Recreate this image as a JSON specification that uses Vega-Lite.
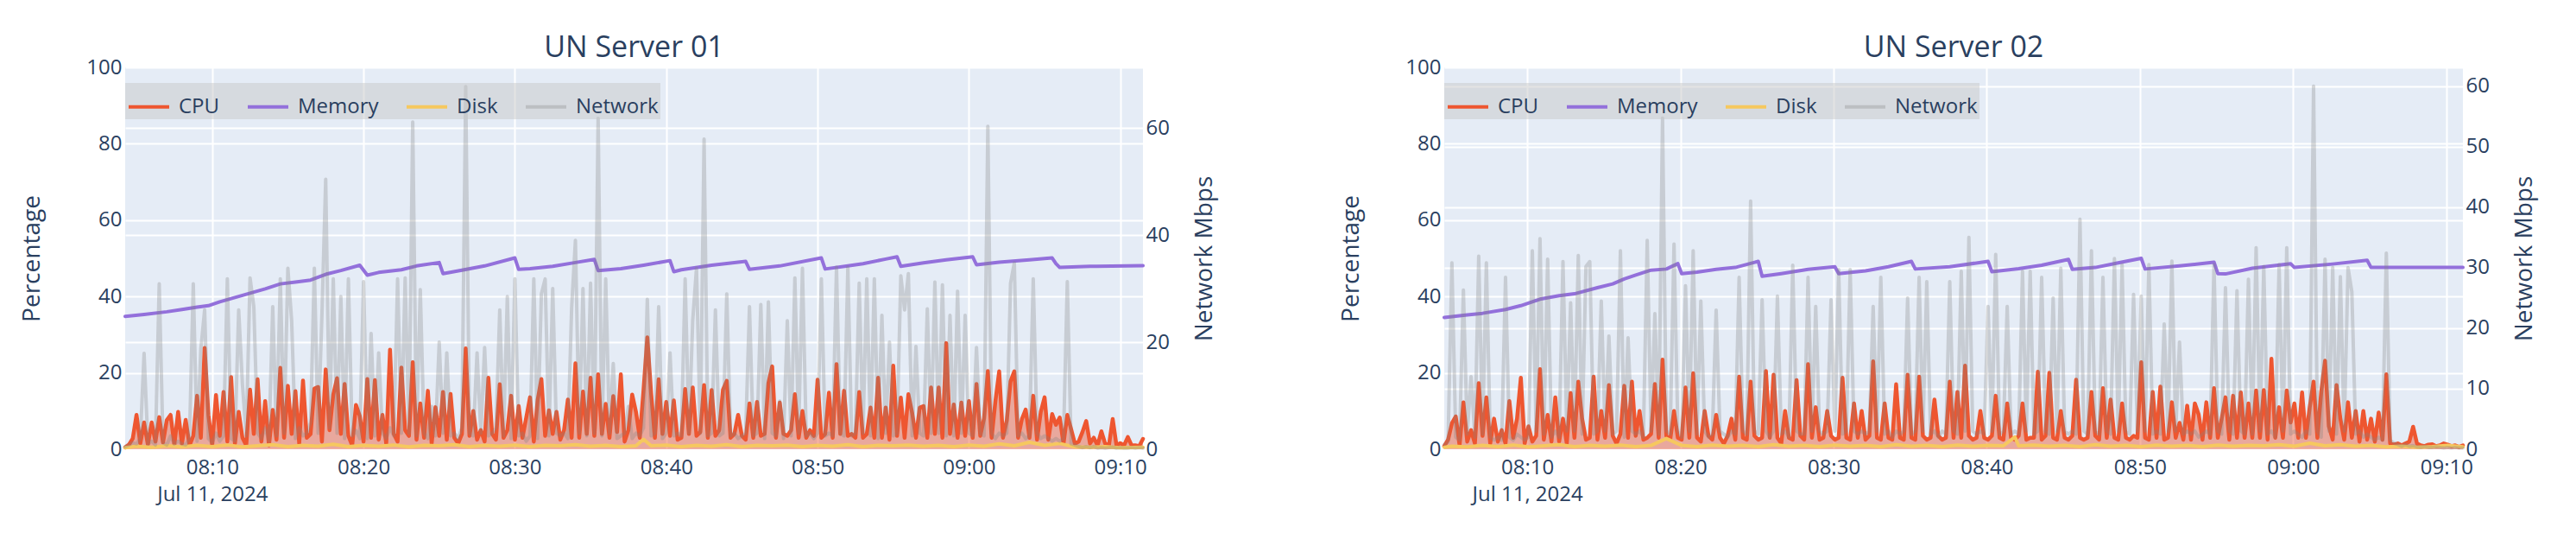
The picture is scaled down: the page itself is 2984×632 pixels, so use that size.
{
"$schema":"https://vega.github.io/schema/vega-lite/v6.json",
"background":"white",
"padding":{"left":23,"top":39,"right":5,"bottom":5},
"config":{
"font":"Open Sans",
"view":{"stroke":null,"fill":"#E5ECF6"},
"axis":{"labelFont":"Open Sans","labelFontSize":24,"labelColor":"#2a3f5f","titleFont":"Open Sans","titleFontSize":28,"titleFontWeight":"normal","titleColor":"#2a3f5f","domain":false,"ticks":false,"gridColor":"#ffffff","gridWidth":2,"gridOpacity":1},
"title":{"font":"Open Sans","fontSize":34,"fontWeight":"normal","color":"#2a3f5f","anchor":"middle","offset":-7},
"line":{"strokeJoin":"round","strokeCap":"round"}
},
"datasets":{
"s1":[
{"t":"08:04:15","c":0.5,"n":0.5,"m":34.8,"d":0.4},{"t":"08:04:30","c":1.2,"n":0.8},{"t":"08:04:45","c":2.8,"n":1.2},
{"t":"08:05:00","c":9.0,"n":1.0,"d":0.8},{"t":"08:05:15","c":1.5,"n":2.0},{"t":"08:05:30","c":7.0,"n":17.9,"m":35.3},{"t":"08:05:45","c":1.2,"n":1.0},
{"t":"08:06:00","c":7.0,"n":1.5,"d":0.5},{"t":"08:06:15","c":2.0,"n":0.8},{"t":"08:06:30","c":8.4,"n":30.9},{"t":"08:06:45","c":1.8,"n":1.2},
{"t":"08:07:00","c":7.6,"n":0.8,"m":36.0,"d":0.9},{"t":"08:07:15","c":9.0,"n":2.5},{"t":"08:07:30","c":1.2,"n":1.0},{"t":"08:07:45","c":9.8,"n":1.5},
{"t":"08:08:00","c":1.5,"n":1.0,"m":36.6,"d":0.6},{"t":"08:08:15","c":7.7,"n":0.8},{"t":"08:08:30","c":1.0,"n":2.0},{"t":"08:08:45","c":3.5,"n":30.9},
{"t":"08:09:00","c":14.0,"n":1.5,"m":37.2,"d":1.0},{"t":"08:09:15","c":3.0,"n":18.7},{"t":"08:09:30","c":26.5,"n":26.0},{"t":"08:09:45","c":9.0,"n":2.0,"m":37.6},
{"t":"08:10:00","c":1.0,"n":1.2,"d":0.7},{"t":"08:10:15","c":14.2,"n":3.0},{"t":"08:10:30","c":3.5,"n":1.5,"m":38.6},{"t":"08:10:45","c":15.0,"n":2.5},
{"t":"08:11:00","c":2.0,"n":31.8,"d":1.1},{"t":"08:11:15","c":18.9,"n":2.0},{"t":"08:11:30","c":1.5,"n":1.5},{"t":"08:11:45","c":9.8,"n":26.0},
{"t":"08:12:00","c":3.0,"n":12.0,"m":40.3,"d":0.6},{"t":"08:12:15","c":1.0,"n":2.5},{"t":"08:12:30","c":15.6,"n":32.0},{"t":"08:12:45","c":4.0,"n":26.6},
{"t":"08:13:00","c":18.3,"n":3.0,"d":0.9},{"t":"08:13:15","c":2.0,"n":2.0},{"t":"08:13:30","c":12.6,"n":4.0,"m":42.0},{"t":"08:13:45","c":1.0,"n":1.5},
{"t":"08:14:00","c":10.3,"n":26.6,"d":1.2},{"t":"08:14:15","c":2.5,"n":2.5},{"t":"08:14:30","c":21.3,"n":31.8,"m":43.3},{"t":"08:14:45","c":3.0,"n":3.0},
{"t":"08:15:00","c":16.6,"n":33.8,"d":0.7},{"t":"08:15:15","c":4.0,"n":24.0},{"t":"08:15:30","c":15.2,"n":2.0,"m":43.8},{"t":"08:15:45","c":1.5,"n":4.0},
{"t":"08:16:00","c":18.0,"n":2.5,"d":1.0},{"t":"08:16:15","c":3.0,"n":3.0},{"t":"08:16:30","c":4.0,"n":5.0,"m":44.3},{"t":"08:16:45","c":15.9,"n":33.8},
{"t":"08:17:00","c":16.3,"n":3.0,"d":0.8},{"t":"08:17:15","c":2.0,"n":25.0},{"t":"08:17:30","c":20.9,"n":50.4,"m":45.8},{"t":"08:17:45","c":5.0,"n":4.0},
{"t":"08:18:00","c":14.3,"n":31.8,"d":1.3},{"t":"08:18:15","c":18.6,"n":3.0},{"t":"08:18:30","c":4.0,"n":28.5,"m":46.8},{"t":"08:18:45","c":17.1,"n":2.0},
{"t":"08:19:00","c":3.5,"n":31.8,"d":0.7},{"t":"08:19:15","c":1.0,"n":2.5},{"t":"08:19:30","c":11.6,"n":3.5},{"t":"08:19:45","c":8.7,"n":2.0,"m":48.2},
{"t":"08:20:00","c":2.0,"n":31.3,"d":1.0},{"t":"08:20:15","c":18.4,"n":2.0,"m":45.6},{"t":"08:20:30","c":3.0,"n":21.6},{"t":"08:20:45","c":18.1,"n":2.5},
{"t":"08:21:00","c":2.5,"n":18.0,"m":46.3,"d":0.8},{"t":"08:21:15","c":9.0,"n":3.0},{"t":"08:21:30","c":1.5,"n":2.0},{"t":"08:21:45","c":26.1,"n":4.0},
{"t":"08:22:00","c":4.0,"n":2.5,"d":1.1},{"t":"08:22:15","c":2.0,"n":31.8},{"t":"08:22:30","c":21.4,"n":3.0,"m":47.0},{"t":"08:22:45","c":5.0,"n":32.0},
{"t":"08:23:00","c":3.5,"n":3.0,"d":0.6},{"t":"08:23:15","c":22.8,"n":61.1},{"t":"08:23:30","c":2.5,"n":2.5,"m":48.0},{"t":"08:23:45","c":12.0,"n":29.8},
{"t":"08:24:00","c":3.0,"n":3.0,"d":1.0},{"t":"08:24:15","c":15.3,"n":2.0},{"t":"08:24:30","c":1.5,"n":8.0},{"t":"08:24:45","c":11.0,"n":2.5},
{"t":"08:25:00","c":3.5,"n":20.0,"m":48.9,"d":0.9},{"t":"08:25:15","c":15.0,"n":3.0,"m":46.0},{"t":"08:25:30","c":2.5,"n":18.0},{"t":"08:25:45","c":14.5,"n":2.5},
{"t":"08:26:00","c":3.0,"n":3.0,"d":1.2},{"t":"08:26:15","c":1.5,"n":2.0},{"t":"08:26:30","c":4.0,"n":4.0,"m":46.9},{"t":"08:26:45","c":26.4,"n":67.7},
{"t":"08:27:00","c":3.5,"n":3.0,"d":0.7},{"t":"08:27:15","c":10.0,"n":2.5},{"t":"08:27:30","c":2.5,"n":18.0},{"t":"08:27:45","c":5.0,"n":3.0},
{"t":"08:28:00","c":2.0,"n":19.0,"m":48.0,"d":1.0},{"t":"08:28:15","c":18.7,"n":2.5},{"t":"08:28:30","c":4.0,"n":3.0},{"t":"08:28:45","c":2.5,"n":4.0},
{"t":"08:29:00","c":17.0,"n":26.0,"d":0.8},{"t":"08:29:15","c":3.0,"n":2.5},{"t":"08:29:30","c":5.0,"n":28.5},{"t":"08:29:45","c":14.0,"n":2.0},
{"t":"08:30:00","c":2.5,"n":31.8,"m":50.1,"d":1.1},{"t":"08:30:15","c":11.3,"n":2.5,"m":47.1},{"t":"08:30:30","c":3.0,"n":3.0},{"t":"08:30:45","c":8.3,"n":1.5},
{"t":"08:31:00","c":13.6,"n":2.5,"m":47.3,"d":0.7},{"t":"08:31:15","c":2.0,"n":31.8},{"t":"08:31:30","c":12.8,"n":2.0},{"t":"08:31:45","c":18.4,"n":29.0},
{"t":"08:32:00","c":3.5,"n":31.8,"d":1.0},{"t":"08:32:15","c":10.2,"n":2.5},{"t":"08:32:30","c":4.0,"n":30.0,"m":47.9},{"t":"08:32:45","c":9.8,"n":3.0},
{"t":"08:33:00","c":2.5,"n":2.5,"d":0.9},{"t":"08:33:15","c":5.0,"n":3.0},{"t":"08:33:30","c":13.0,"n":2.0},{"t":"08:33:45","c":3.0,"n":26.4},
{"t":"08:34:00","c":22.5,"n":39.0,"m":48.9,"d":1.2},{"t":"08:34:15","c":3.0,"n":3.0},{"t":"08:34:30","c":15.1,"n":30.0},{"t":"08:34:45","c":4.0,"n":2.5},
{"t":"08:35:00","c":18.7,"n":31.0,"d":0.8},{"t":"08:35:15","c":3.5,"n":3.0,"m":49.7},{"t":"08:35:30","c":19.6,"n":61.8,"m":46.8},{"t":"08:35:45","c":4.0,"n":2.5},
{"t":"08:36:00","c":11.9,"n":31.8,"d":1.0},{"t":"08:36:15","c":3.0,"n":3.0},{"t":"08:36:30","c":13.9,"n":16.0},{"t":"08:36:45","c":4.5,"n":2.0},
{"t":"08:37:00","c":19.6,"n":2.5,"m":47.3,"d":0.7},{"t":"08:37:15","c":2.0,"n":3.0},{"t":"08:37:30","c":5.0,"n":8.0},{"t":"08:37:45","c":14.3,"n":2.0},
{"t":"08:38:00","c":9.8,"n":3.0,"d":0.9},{"t":"08:38:15","c":3.0,"n":2.5},{"t":"08:38:30","c":15.5,"n":4.0,"m":48.2,"d":2.6},{"t":"08:38:45","c":29.3,"n":28.0},
{"t":"08:39:00","c":14.7,"n":2.5,"d":0.9},{"t":"08:39:15","c":3.0,"n":3.0},{"t":"08:39:30","c":18.3,"n":26.6},{"t":"08:39:45","c":4.0,"n":2.0},
{"t":"08:40:00","c":12.4,"n":3.0,"d":1.1},{"t":"08:40:15","c":3.5,"n":18.0,"m":49.4},{"t":"08:40:30","c":12.8,"n":2.5,"m":46.5},{"t":"08:40:45","c":2.5,"n":3.0},
{"t":"08:41:00","c":3.0,"n":2.5,"m":47.0,"d":0.7},{"t":"08:41:15","c":15.8,"n":31.8},{"t":"08:41:30","c":4.0,"n":3.0},{"t":"08:41:45","c":16.2,"n":24.0},
{"t":"08:42:00","c":3.5,"n":33.8,"d":1.0},{"t":"08:42:15","c":4.5,"n":3.0},{"t":"08:42:30","c":16.8,"n":57.9},{"t":"08:42:45","c":3.0,"n":2.5},
{"t":"08:43:00","c":15.5,"n":3.0,"m":48.2,"d":0.8},{"t":"08:43:15","c":3.5,"n":26.0},{"t":"08:43:30","c":5.0,"n":2.5},{"t":"08:43:45","c":15.6,"n":3.0},
{"t":"08:44:00","c":17.9,"n":29.0,"d":1.2},{"t":"08:44:15","c":3.0,"n":2.5},{"t":"08:44:30","c":4.0,"n":3.0},{"t":"08:44:45","c":9.0,"n":2.0},
{"t":"08:45:00","c":3.5,"n":2.5,"d":0.7},{"t":"08:45:15","c":2.5,"n":3.0,"m":49.2},{"t":"08:45:30","c":12.0,"n":26.6,"m":47.1},{"t":"08:45:45","c":3.0,"n":2.5},
{"t":"08:46:00","c":12.4,"n":3.0,"d":1.0},{"t":"08:46:15","c":3.5,"n":27.0},{"t":"08:46:30","c":4.0,"n":2.0},{"t":"08:46:45","c":17.3,"n":27.5},
{"t":"08:47:00","c":21.7,"n":3.0,"d":0.9},{"t":"08:47:15","c":3.0,"n":2.5},{"t":"08:47:30","c":12.2,"n":9.0,"m":48.0},{"t":"08:47:45","c":4.0,"n":2.0},
{"t":"08:48:00","c":3.5,"n":24.0,"d":1.1},{"t":"08:48:15","c":5.0,"n":2.5},{"t":"08:48:30","c":14.4,"n":32.0},{"t":"08:48:45","c":3.0,"n":3.0},
{"t":"08:49:00","c":10.0,"n":33.8,"d":0.7},{"t":"08:49:15","c":3.0,"n":2.5},{"t":"08:49:30","c":5.0,"n":3.0},{"t":"08:49:45","c":3.5,"n":2.0},
{"t":"08:50:00","c":18.2,"n":3.0,"d":1.0},{"t":"08:50:15","c":3.0,"n":31.8,"m":50.1},{"t":"08:50:30","c":4.0,"n":2.5,"m":47.2},{"t":"08:50:45","c":14.8,"n":3.0},
{"t":"08:51:00","c":3.0,"n":2.5,"d":0.8},{"t":"08:51:15","c":22.3,"n":34.0},{"t":"08:51:30","c":4.0,"n":3.0},{"t":"08:51:45","c":15.3,"n":2.5},
{"t":"08:52:00","c":3.5,"n":34.0,"m":48.0,"d":1.2},{"t":"08:52:15","c":4.0,"n":2.5},{"t":"08:52:30","c":3.0,"n":3.0},{"t":"08:52:45","c":15.0,"n":31.0},
{"t":"08:53:00","c":3.0,"n":3.0,"m":48.6,"d":0.7},{"t":"08:53:15","c":4.0,"n":31.8},{"t":"08:53:30","c":10.9,"n":2.5},{"t":"08:53:45","c":3.0,"n":31.8},
{"t":"08:54:00","c":18.7,"n":2.0,"d":1.0},{"t":"08:54:15","c":3.0,"n":25.0},{"t":"08:54:30","c":10.9,"n":3.0,"m":49.8},{"t":"08:54:45","c":2.5,"n":20.0},
{"t":"08:55:00","c":21.9,"n":2.5,"d":0.9},{"t":"08:55:15","c":3.5,"n":3.0,"m":50.4},{"t":"08:55:30","c":13.5,"n":32.4,"m":47.9},{"t":"08:55:45","c":3.0,"n":26.0},
{"t":"08:56:00","c":14.4,"n":32.8,"d":1.1},{"t":"08:56:15","c":9.5,"n":2.5},{"t":"08:56:30","c":3.0,"n":19.2},{"t":"08:56:45","c":10.9,"n":3.0},
{"t":"08:57:00","c":11.3,"n":2.5,"m":48.8,"d":0.8},{"t":"08:57:15","c":3.0,"n":26.2},{"t":"08:57:30","c":16.2,"n":3.0},{"t":"08:57:45","c":4.0,"n":31.2},
{"t":"08:58:00","c":16.2,"n":3.0,"d":1.0},{"t":"08:58:15","c":3.0,"n":30.7},{"t":"08:58:30","c":27.8,"n":2.5,"m":49.6},{"t":"08:58:45","c":4.0,"n":25.0},
{"t":"08:59:00","c":11.7,"n":2.5,"d":0.7},{"t":"08:59:15","c":3.0,"n":29.5},{"t":"08:59:30","c":12.2,"n":3.0},{"t":"08:59:45","c":3.5,"n":25.0},
{"t":"09:00:00","c":12.6,"n":3.0,"d":1.1},{"t":"09:00:15","c":3.0,"n":2.5,"m":50.4},{"t":"09:00:30","c":17.1,"n":19.0,"m":48.3},{"t":"09:00:45","c":3.5,"n":3.0},
{"t":"09:01:00","c":8.1,"n":2.5,"d":0.8},{"t":"09:01:15","c":20.5,"n":60.3},{"t":"09:01:30","c":3.0,"n":3.0},{"t":"09:01:45","c":12.6,"n":2.0},
{"t":"09:02:00","c":20.4,"n":3.0,"m":49.0,"d":1.4},{"t":"09:02:15","c":3.0,"n":2.5},{"t":"09:02:30","c":7.5,"n":3.0},{"t":"09:02:45","c":17.8,"n":31.0},
{"t":"09:03:00","c":20.4,"n":34.8,"d":0.9},{"t":"09:03:15","c":3.0,"n":2.5},{"t":"09:03:30","c":7.9,"n":3.0},{"t":"09:03:45","c":10.4,"n":2.0},
{"t":"09:04:00","c":3.0,"n":2.5,"m":49.6,"d":1.8},{"t":"09:04:15","c":14.0,"n":31.8},{"t":"09:04:30","c":2.5,"n":3.0},{"t":"09:04:45","c":9.8,"n":2.0},
{"t":"09:05:00","c":13.6,"n":2.5,"d":1.0},{"t":"09:05:15","c":2.5,"n":2.0},{"t":"09:05:30","c":9.2,"n":1.5,"m":50.1},{"t":"09:05:45","c":6.4,"n":2.0,"m":48.6},
{"t":"09:06:00","c":8.3,"n":1.5,"m":47.6,"d":1.5},{"t":"09:06:15","c":1.5,"n":2.0},{"t":"09:06:30","c":9.0,"n":31.3},{"t":"09:06:45","c":5.3,"n":1.0},
{"t":"09:07:00","c":1.5,"n":0.8,"d":0.6},{"t":"09:07:15","c":2.0,"n":0.5},{"t":"09:07:30","c":4.5,"n":0.3},{"t":"09:07:45","c":7.4,"n":0.5},
{"t":"09:08:00","c":1.5,"n":0.3,"m":47.9,"d":0.5},{"t":"09:08:15","c":3.0,"n":0.5},{"t":"09:08:30","c":1.0,"n":0.2},{"t":"09:08:45","c":4.7,"n":0.3},
{"t":"09:09:00","c":1.5,"n":0.2,"d":0.7},{"t":"09:09:15","c":1.0,"n":0.3},{"t":"09:09:30","c":7.9,"n":0.4},{"t":"09:09:45","c":1.0,"n":0.2},
{"t":"09:10:00","c":1.6,"n":0.3,"d":0.4},{"t":"09:10:15","c":1.0,"n":0.2},{"t":"09:10:30","c":3.2,"n":0.2},{"t":"09:10:45","c":1.0,"n":0.3},
{"t":"09:11:00","c":1.0,"n":0.2},{"t":"09:11:15","c":0.8,"n":0.3},{"t":"09:11:30","c":2.7,"n":0.2,"m":48.1,"d":0.5}
],
"s2":[
{"t":"08:04:35","c":0.8,"n":0.8,"m":34.5,"d":0.5},{"t":"08:04:50","c":2.5,"n":1.2},
{"t":"08:05:05","c":6.8,"n":30.8,"d":0.8},{"t":"08:05:20","c":8.6,"n":2.0},{"t":"08:05:35","c":1.0,"n":1.5},{"t":"08:05:50","c":12.3,"n":26.3},
{"t":"08:06:05","c":2.0,"n":2.5,"m":35.2,"d":0.6},{"t":"08:06:20","c":5.0,"n":12.0},{"t":"08:06:35","c":1.5,"n":2.0},{"t":"08:06:50","c":17.3,"n":31.9},
{"t":"08:07:05","c":3.5,"n":2.5,"m":35.6,"d":1.0},{"t":"08:07:20","c":13.6,"n":30.8},{"t":"08:07:35","c":1.5,"n":2.0},{"t":"08:07:50","c":8.0,"n":1.5},
{"t":"08:08:05","c":2.0,"n":2.0,"d":0.7},{"t":"08:08:20","c":5.0,"n":1.5},{"t":"08:08:35","c":1.5,"n":28.4,"m":36.6},{"t":"08:08:50","c":12.6,"n":2.0},
{"t":"08:09:05","c":3.0,"n":1.5,"d":1.1},{"t":"08:09:20","c":8.0,"n":2.5},{"t":"08:09:35","c":18.7,"n":2.0,"m":37.6},{"t":"08:09:50","c":1.5,"n":1.5},
{"t":"08:10:05","c":6.0,"n":2.0,"d":0.6},{"t":"08:10:20","c":2.0,"n":32.8},{"t":"08:10:35","c":3.5,"n":3.0},{"t":"08:10:50","c":21.0,"n":34.8,"m":39.3},
{"t":"08:11:05","c":2.5,"n":2.5,"d":0.9},{"t":"08:11:20","c":9.0,"n":31.4},{"t":"08:11:35","c":2.0,"n":2.0},{"t":"08:11:50","c":13.6,"n":3.0},
{"t":"08:12:05","c":2.0,"n":2.0,"m":40.2,"d":1.2},{"t":"08:12:20","c":8.0,"n":31.0},{"t":"08:12:35","c":1.5,"n":3.0},{"t":"08:12:50","c":14.7,"n":24.2},
{"t":"08:13:05","c":3.0,"n":3.0,"m":40.7,"d":0.7},{"t":"08:13:20","c":17.7,"n":32.0},{"t":"08:13:35","c":8.0,"n":2.5},{"t":"08:13:50","c":2.5,"n":30.2},
{"t":"08:14:05","c":3.0,"n":31.0,"d":1.0},{"t":"08:14:20","c":19.0,"n":2.5},{"t":"08:14:35","c":2.5,"n":3.0,"m":42.3},{"t":"08:14:50","c":10.0,"n":24.5},
{"t":"08:15:05","c":3.0,"n":3.0,"d":0.8},{"t":"08:15:20","c":16.8,"n":18.7},{"t":"08:15:35","c":3.5,"n":2.5,"m":43.3},{"t":"08:15:50","c":1.5,"n":3.0},
{"t":"08:16:05","c":4.0,"n":32.8,"d":1.1},{"t":"08:16:20","c":16.6,"n":2.0,"m":44.6},{"t":"08:16:35","c":3.0,"n":18.4},{"t":"08:16:50","c":17.7,"n":3.0},
{"t":"08:17:05","c":3.5,"n":2.5,"m":45.6,"d":0.7},{"t":"08:17:20","c":10.0,"n":3.0},{"t":"08:17:35","c":2.5,"n":2.0},{"t":"08:17:50","c":3.0,"n":34.5},
{"t":"08:18:05","c":4.0,"n":3.0,"m":46.9,"d":1.0},{"t":"08:18:20","c":17.1,"n":22.4},{"t":"08:18:35","c":3.0,"n":2.5},{"t":"08:18:50","c":23.5,"n":54.7},
{"t":"08:19:05","c":3.5,"n":3.0,"m":47.2,"d":2.8},{"t":"08:19:20","c":2.5,"n":2.5},{"t":"08:19:35","c":10.0,"n":33.9},{"t":"08:19:50","c":3.0,"n":3.0,"m":48.6},
{"t":"08:20:05","c":2.5,"n":2.0,"m":46.0,"d":1.0},{"t":"08:20:20","c":16.2,"n":27.0},{"t":"08:20:35","c":3.0,"n":3.0},{"t":"08:20:50","c":19.9,"n":32.8},
{"t":"08:21:05","c":3.0,"n":2.5,"m":46.4,"d":0.7},{"t":"08:21:20","c":2.0,"n":24.5},{"t":"08:21:35","c":10.0,"n":3.0},{"t":"08:21:50","c":3.5,"n":2.0},
{"t":"08:22:05","c":2.5,"n":2.5,"d":1.1},{"t":"08:22:20","c":9.0,"n":23.0,"m":47.1},{"t":"08:22:35","c":3.0,"n":3.0},{"t":"08:22:50","c":1.5,"n":2.5},
{"t":"08:23:05","c":3.5,"n":2.0,"d":0.8},{"t":"08:23:20","c":8.0,"n":3.0},{"t":"08:23:35","c":2.5,"n":2.5,"m":47.6},{"t":"08:23:50","c":19.0,"n":28.4},
{"t":"08:24:05","c":3.0,"n":3.0,"d":1.0},{"t":"08:24:20","c":2.5,"n":2.5},{"t":"08:24:35","c":17.7,"n":41.0},{"t":"08:24:50","c":3.5,"n":3.0},
{"t":"08:25:05","c":2.5,"n":2.5,"m":49.2,"d":0.7},{"t":"08:25:20","c":3.0,"n":24.7,"m":45.3},{"t":"08:25:35","c":20.5,"n":3.0},{"t":"08:25:50","c":3.0,"n":2.0},
{"t":"08:26:05","c":19.5,"n":3.0,"d":1.2},{"t":"08:26:20","c":3.0,"n":25.3},{"t":"08:26:35","c":1.5,"n":2.5,"m":46.0},{"t":"08:26:50","c":10.0,"n":3.0},
{"t":"08:27:05","c":3.0,"n":2.0,"d":0.8},{"t":"08:27:20","c":2.5,"n":30.4},{"t":"08:27:35","c":18.1,"n":3.0},{"t":"08:27:50","c":3.5,"n":2.5},
{"t":"08:28:05","c":2.5,"n":2.5,"d":1.0},{"t":"08:28:20","c":22.3,"n":28.4,"m":47.1},{"t":"08:28:35","c":3.0,"n":3.0},{"t":"08:28:50","c":11.0,"n":23.6},
{"t":"08:29:05","c":2.5,"n":3.0,"d":0.7},{"t":"08:29:20","c":3.0,"n":2.5},{"t":"08:29:35","c":10.0,"n":3.0},{"t":"08:29:50","c":3.5,"n":24.7},
{"t":"08:30:05","c":2.5,"n":3.0,"m":47.8,"d":1.1},{"t":"08:30:20","c":3.0,"n":29.7,"m":46.0},{"t":"08:30:35","c":18.7,"n":2.5},{"t":"08:30:50","c":3.0,"n":3.0},
{"t":"08:31:05","c":2.5,"n":29.7,"d":0.8},{"t":"08:31:20","c":12.0,"n":3.0},{"t":"08:31:35","c":3.0,"n":2.5},{"t":"08:31:50","c":10.0,"n":3.0},
{"t":"08:32:05","c":2.5,"n":2.5,"m":46.7,"d":1.0},{"t":"08:32:20","c":3.5,"n":3.0},{"t":"08:32:35","c":23.0,"n":23.6},{"t":"08:32:50","c":3.0,"n":3.0},
{"t":"08:33:05","c":2.5,"n":28.4,"d":0.7},{"t":"08:33:20","c":12.0,"n":2.5},{"t":"08:33:35","c":3.0,"n":3.0,"m":47.8},{"t":"08:33:50","c":2.5,"n":2.0},
{"t":"08:34:05","c":17.0,"n":3.0,"d":1.2},{"t":"08:34:20","c":3.0,"n":2.5},{"t":"08:34:35","c":2.5,"n":3.0},{"t":"08:34:50","c":19.5,"n":25.0},
{"t":"08:35:05","c":3.0,"n":2.5,"m":49.2,"d":0.8},{"t":"08:35:20","c":2.5,"n":3.0,"m":47.2},{"t":"08:35:35","c":19.0,"n":28.4},{"t":"08:35:50","c":3.5,"n":3.0},
{"t":"08:36:05","c":2.5,"n":27.7,"d":1.0},{"t":"08:36:20","c":3.0,"n":2.5},{"t":"08:36:35","c":13.0,"n":3.0},{"t":"08:36:50","c":3.5,"n":2.0},
{"t":"08:37:05","c":2.5,"n":3.0,"d":0.7},{"t":"08:37:20","c":3.0,"n":2.5},{"t":"08:37:35","c":17.7,"n":27.7,"m":47.8},{"t":"08:37:50","c":3.0,"n":3.0},
{"t":"08:38:05","c":15.0,"n":2.5,"d":1.1},{"t":"08:38:20","c":3.0,"n":29.4},{"t":"08:38:35","c":21.9,"n":3.0},{"t":"08:38:50","c":3.5,"n":35.0},
{"t":"08:39:05","c":2.5,"n":3.0,"d":0.8},{"t":"08:39:20","c":3.0,"n":2.5},{"t":"08:39:35","c":10.0,"n":3.0},{"t":"08:39:50","c":3.0,"n":2.5},
{"t":"08:40:05","c":2.5,"n":23.6,"m":49.2,"d":1.0},{"t":"08:40:20","c":3.5,"n":3.0,"m":46.5},{"t":"08:40:35","c":14.0,"n":32.2},{"t":"08:40:50","c":3.0,"n":2.5},
{"t":"08:41:05","c":2.5,"n":3.0,"d":0.9},{"t":"08:41:20","c":12.0,"n":23.6},{"t":"08:41:35","c":3.0,"n":2.5},{"t":"08:41:50","c":2.5,"n":3.0,"d":3.2},
{"t":"08:42:05","c":3.5,"n":2.5,"m":47.3,"d":0.9},{"t":"08:42:20","c":12.0,"n":29.4},{"t":"08:42:35","c":2.5,"n":3.0},{"t":"08:42:50","c":3.0,"n":29.4},
{"t":"08:43:05","c":3.0,"n":2.5,"d":1.1},{"t":"08:43:20","c":20.3,"n":3.0},{"t":"08:43:35","c":2.5,"n":28.4,"m":48.2},{"t":"08:43:50","c":3.5,"n":3.0},
{"t":"08:44:05","c":20.0,"n":2.5,"d":0.8},{"t":"08:44:20","c":3.0,"n":25.0},{"t":"08:44:35","c":2.5,"n":3.0},{"t":"08:44:50","c":10.0,"n":29.9},
{"t":"08:45:05","c":3.0,"n":3.0,"d":1.0},{"t":"08:45:20","c":2.5,"n":2.5,"m":49.7},{"t":"08:45:35","c":3.5,"n":3.0,"m":47.1},{"t":"08:45:50","c":18.2,"n":2.5},
{"t":"08:46:05","c":3.0,"n":38.0,"d":0.7},{"t":"08:46:20","c":2.5,"n":3.0},{"t":"08:46:35","c":3.0,"n":2.5},{"t":"08:46:50","c":15.0,"n":32.8},
{"t":"08:47:05","c":3.5,"n":3.0,"m":47.6,"d":1.2},{"t":"08:47:20","c":2.5,"n":2.5},{"t":"08:47:35","c":16.0,"n":28.4},{"t":"08:47:50","c":3.0,"n":3.0},
{"t":"08:48:05","c":13.0,"n":2.5,"d":0.8},{"t":"08:48:20","c":3.0,"n":31.5},{"t":"08:48:35","c":2.5,"n":3.0,"m":48.8},{"t":"08:48:50","c":12.0,"n":30.5},
{"t":"08:49:05","c":3.0,"n":3.0,"d":1.0},{"t":"08:49:20","c":2.5,"n":2.5},{"t":"08:49:35","c":3.5,"n":25.6},{"t":"08:49:50","c":3.0,"n":3.0},
{"t":"08:50:05","c":22.8,"n":25.3,"m":50.0,"d":0.7},{"t":"08:50:20","c":3.0,"n":3.0,"m":47.2},{"t":"08:50:35","c":2.5,"n":30.5},{"t":"08:50:50","c":15.0,"n":2.5},
{"t":"08:51:05","c":3.0,"n":3.0,"d":1.1},{"t":"08:51:20","c":16.4,"n":2.5},{"t":"08:51:35","c":2.5,"n":20.7},{"t":"08:51:50","c":3.0,"n":3.0},
{"t":"08:52:05","c":12.3,"n":31.1,"d":0.8},{"t":"08:52:20","c":3.0,"n":3.0},{"t":"08:52:35","c":6.9,"n":17.7,"m":48.0},{"t":"08:52:50","c":2.5,"n":2.5},
{"t":"08:53:05","c":11.4,"n":3.0,"d":1.0},{"t":"08:53:20","c":2.5,"n":2.5},{"t":"08:53:35","c":12.0,"n":3.0},{"t":"08:53:50","c":9.1,"n":2.0},
{"t":"08:54:05","c":2.5,"n":2.5,"d":0.7},{"t":"08:54:20","c":12.3,"n":3.0},{"t":"08:54:35","c":3.0,"n":2.5},{"t":"08:54:50","c":16.0,"n":30.5,"m":49.0},
{"t":"08:55:05","c":3.0,"n":3.0,"m":46.0,"d":1.1},{"t":"08:55:20","c":8.0,"n":2.5},{"t":"08:55:35","c":13.6,"n":26.7,"m":45.9},{"t":"08:55:50","c":2.5,"n":3.0},
{"t":"08:56:05","c":14.0,"n":2.5,"d":0.8},{"t":"08:56:20","c":3.0,"n":26.2},{"t":"08:56:35","c":14.9,"n":3.0},{"t":"08:56:50","c":3.0,"n":2.5},
{"t":"08:57:05","c":12.0,"n":28.1,"d":1.0},{"t":"08:57:20","c":3.0,"n":2.5,"m":47.4},{"t":"08:57:35","c":15.4,"n":33.3},{"t":"08:57:50","c":3.0,"n":3.0},
{"t":"08:58:05","c":15.5,"n":30.2,"d":0.9},{"t":"08:58:20","c":2.5,"n":2.5},{"t":"08:58:35","c":23.7,"n":3.0},{"t":"08:58:50","c":3.0,"n":2.0},
{"t":"08:59:05","c":11.0,"n":30.5,"d":1.2},{"t":"08:59:20","c":3.0,"n":3.0},{"t":"08:59:35","c":15.4,"n":33.3},{"t":"08:59:50","c":7.0,"n":2.5,"m":48.6},
{"t":"09:00:05","c":12.0,"n":3.0,"m":47.6,"d":0.8},{"t":"09:00:20","c":3.0,"n":2.5},{"t":"09:00:35","c":14.9,"n":2.0},{"t":"09:00:50","c":3.0,"n":3.0},
{"t":"09:01:05","c":11.0,"n":2.5,"d":1.6},{"t":"09:01:20","c":17.7,"n":60.0},{"t":"09:01:35","c":3.0,"n":3.0},{"t":"09:01:50","c":15.0,"n":2.0},
{"t":"09:02:05","c":23.2,"n":31.4,"d":0.9},{"t":"09:02:20","c":6.0,"n":3.0},{"t":"09:02:35","c":2.5,"n":30.0,"m":48.5},{"t":"09:02:50","c":16.8,"n":2.5},
{"t":"09:03:05","c":8.0,"n":28.5,"d":1.2},{"t":"09:03:20","c":2.5,"n":3.0},{"t":"09:03:35","c":12.3,"n":30.0},{"t":"09:03:50","c":3.0,"n":26.0},
{"t":"09:04:05","c":10.0,"n":2.5,"d":0.8},{"t":"09:04:20","c":2.0,"n":3.0},{"t":"09:04:35","c":10.0,"n":2.0},{"t":"09:04:50","c":2.5,"n":2.5,"m":49.5},
{"t":"09:05:05","c":8.0,"n":2.0,"m":47.6,"d":1.0},{"t":"09:05:20","c":2.0,"n":1.5},{"t":"09:05:35","c":9.6,"n":2.0},{"t":"09:05:50","c":2.5,"n":1.5},
{"t":"09:06:05","c":19.6,"n":32.4,"d":0.6},{"t":"09:06:20","c":1.5,"n":1.5},{"t":"09:06:35","c":1.2,"n":1.0},{"t":"09:06:50","c":1.5,"n":0.8},
{"t":"09:07:05","c":1.0,"n":0.5,"d":0.8},{"t":"09:07:20","c":1.5,"n":0.8},{"t":"09:07:35","c":2.0,"n":0.5},{"t":"09:07:50","c":5.9,"n":0.6},
{"t":"09:08:05","c":1.5,"n":0.4,"d":0.5},{"t":"09:08:20","c":1.0,"n":0.3},{"t":"09:08:35","c":0.8,"n":0.5},{"t":"09:08:50","c":1.2,"n":0.3},
{"t":"09:09:05","c":1.3,"n":0.3,"d":0.7},{"t":"09:09:20","c":0.8,"n":0.4},{"t":"09:09:35","c":1.0,"n":0.3},{"t":"09:09:50","c":1.5,"n":0.2},
{"t":"09:10:05","c":1.2,"n":0.3,"d":1.0},{"t":"09:10:20","c":0.8,"n":0.2},{"t":"09:10:35","c":1.0,"n":0.3},{"t":"09:10:50","c":0.6,"n":0.2},
{"t":"09:11:05","c":1.0,"n":0.2,"m":47.6,"d":0.6}
]
},
"hconcat":[
{
"title":"UN Server 01",
"width":1179,"height":442,
"data":{"name":"s1","format":{"parse":{"t":"date:'%H:%M:%S'"}}},
"layer":[
{"layer":[
{"mark":{"type":"area","color":"#EE5630","opacity":0.45},
"encoding":{
"x":{"field":"t","type":"temporal","scale":{"nice":false},"axis":{"title":null,"orient":"bottom","format":"%H:%M","values":[{"year":1900,"month":1,"date":1,"hours":8,"minutes":10},{"year":1900,"month":1,"date":1,"hours":8,"minutes":20},{"year":1900,"month":1,"date":1,"hours":8,"minutes":30},{"year":1900,"month":1,"date":1,"hours":8,"minutes":40},{"year":1900,"month":1,"date":1,"hours":8,"minutes":50},{"year":1900,"month":1,"date":1,"hours":9,"minutes":0},{"year":1900,"month":1,"date":1,"hours":9,"minutes":10}],"labelPadding":9,"labelFlush":false,"labelOverlap":false,"grid":true}},
"y":{"field":"c","type":"quantitative","scale":{"domain":[0,100],"nice":false},"axis":{"orient":"left","values":[0,20,40,60,80,100],"title":"Percentage","labelPadding":4,"titlePadding":48,"grid":true}}}},
{"mark":{"type":"line","strokeWidth":4.5},
"encoding":{"x":{"field":"t","type":"temporal"},"y":{"field":"c","type":"quantitative"},
"color":{"datum":"CPU","type":"nominal","scale":{"domain":["CPU","Memory","Disk","Network"],"range":["#EE5630","#9370DB","#F6C85F","rgba(128,128,128,0.3)"]},"legend":{"title":null,"orient":"none","legendX":0,"legendY":18,"direction":"horizontal","fillColor":"rgba(200,200,200,0.5)","padding":2,"symbolType":"stroke","symbolSize":2209,"symbolStrokeWidth":4,"labelFont":"Open Sans","labelFontSize":24,"labelColor":"#2a3f5f","labelOffset":9,"columnPadding":30}}}},
{"transform":[{"filter":"isValid(datum.m)"}],
"mark":{"type":"line","strokeWidth":4},
"encoding":{"x":{"field":"t","type":"temporal"},"y":{"field":"m","type":"quantitative"},"color":{"datum":"Memory","type":"nominal"}}},
{"transform":[{"filter":"isValid(datum.d)"}],
"mark":{"type":"line","strokeWidth":4},
"encoding":{"x":{"field":"t","type":"temporal"},"y":{"field":"d","type":"quantitative"},"color":{"datum":"Disk","type":"nominal"}}}
]},
{"mark":{"type":"line","strokeWidth":4},
"encoding":{"x":{"field":"t","type":"temporal","axis":{"title":null,"orient":"bottom","values":[{"year":1900,"month":1,"date":1,"hours":8,"minutes":10}],"labelExpr":"'Jul 11, 2024'","labelPadding":40,"labelFlush":false,"grid":false}},
"y":{"field":"n","type":"quantitative","scale":{"domain":[0,71.3],"nice":false},"axis":{"orient":"right","values":[0,20,40,60],"title":"Network Mbps","titleAngle":270,"titleBaseline":"top","labelPadding":3,"titlePadding":27,"grid":true}},
"color":{"datum":"Network","type":"nominal"}}}
],
"resolve":{"scale":{"y":"independent"},"axis":{"x":"independent"}}
},
{
"title":"UN Server 02",
"width":1180,"height":442,
"data":{"name":"s2","format":{"parse":{"t":"date:'%H:%M:%S'"}}},
"layer":[
{"layer":[
{"mark":{"type":"area","color":"#EE5630","opacity":0.45},
"encoding":{
"x":{"field":"t","type":"temporal","scale":{"nice":false},"axis":{"title":null,"orient":"bottom","format":"%H:%M","values":[{"year":1900,"month":1,"date":1,"hours":8,"minutes":10},{"year":1900,"month":1,"date":1,"hours":8,"minutes":20},{"year":1900,"month":1,"date":1,"hours":8,"minutes":30},{"year":1900,"month":1,"date":1,"hours":8,"minutes":40},{"year":1900,"month":1,"date":1,"hours":8,"minutes":50},{"year":1900,"month":1,"date":1,"hours":9,"minutes":0},{"year":1900,"month":1,"date":1,"hours":9,"minutes":10}],"labelPadding":9,"labelFlush":false,"labelOverlap":false,"grid":true}},
"y":{"field":"c","type":"quantitative","scale":{"domain":[0,100],"nice":false},"axis":{"orient":"left","values":[0,20,40,60,80,100],"title":"Percentage","labelPadding":4,"titlePadding":48,"grid":true}}}},
{"mark":{"type":"line","strokeWidth":4.5},
"encoding":{"x":{"field":"t","type":"temporal"},"y":{"field":"c","type":"quantitative"},
"color":{"datum":"CPU","type":"nominal","scale":{"domain":["CPU","Memory","Disk","Network"],"range":["#EE5630","#9370DB","#F6C85F","rgba(128,128,128,0.3)"]},"legend":{"title":null,"orient":"none","legendX":0,"legendY":18,"direction":"horizontal","fillColor":"rgba(200,200,200,0.5)","padding":2,"symbolType":"stroke","symbolSize":2209,"symbolStrokeWidth":4,"labelFont":"Open Sans","labelFontSize":24,"labelColor":"#2a3f5f","labelOffset":9,"columnPadding":30}}}},
{"transform":[{"filter":"isValid(datum.m)"}],
"mark":{"type":"line","strokeWidth":4},
"encoding":{"x":{"field":"t","type":"temporal"},"y":{"field":"m","type":"quantitative"},"color":{"datum":"Memory","type":"nominal"}}},
{"transform":[{"filter":"isValid(datum.d)"}],
"mark":{"type":"line","strokeWidth":4},
"encoding":{"x":{"field":"t","type":"temporal"},"y":{"field":"d","type":"quantitative"},"color":{"datum":"Disk","type":"nominal"}}}
]},
{"mark":{"type":"line","strokeWidth":4},
"encoding":{"x":{"field":"t","type":"temporal","axis":{"title":null,"orient":"bottom","values":[{"year":1900,"month":1,"date":1,"hours":8,"minutes":10}],"labelExpr":"'Jul 11, 2024'","labelPadding":40,"labelFlush":false,"grid":false}},
"y":{"field":"n","type":"quantitative","scale":{"domain":[0,63.1],"nice":false},"axis":{"orient":"right","values":[0,10,20,30,40,50,60],"title":"Network Mbps","titleAngle":270,"titleBaseline":"top","labelPadding":3,"titlePadding":27,"grid":true}},
"color":{"datum":"Network","type":"nominal"}}}
],
"resolve":{"scale":{"y":"independent"},"axis":{"x":"independent"}}
}
],
"spacing":141,
"resolve":{"scale":{"color":"independent"},"legend":{"color":"independent"}}
}
